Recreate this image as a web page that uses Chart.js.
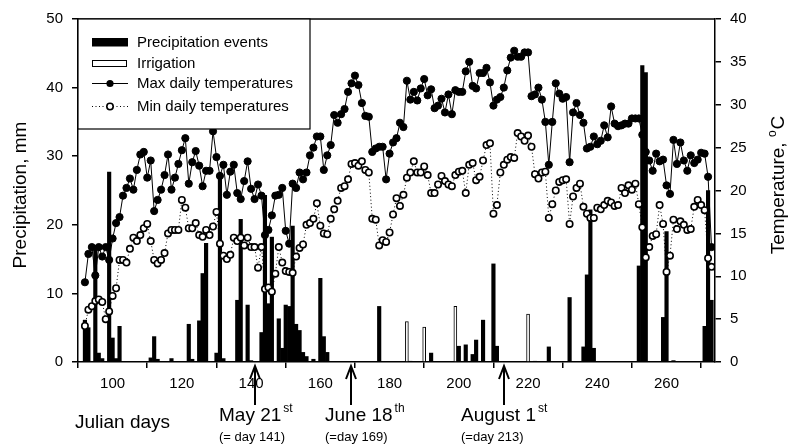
<!DOCTYPE html>
<html>
<head>
<meta charset="utf-8">
<script src="https://cdn.jsdelivr.net/npm/chart.js@4.4.1/dist/chart.umd.min.js"></script>
<style>
  html, body { margin: 0; padding: 0; background: #fff; }
  #wrap { width: 790px; height: 444px; }
</style>
</head>
<body>
<div id="wrap"><canvas id="chart" width="790" height="444"></canvas></div>
<script>
// Julian days with a temperature reading
const tempDays = [
  92, 93, 94, 95, 96, 97, 98, 99, 100, 101,
  102, 103, 104, 105, 106, 107, 108, 109, 110, 111,
  112, 113, 114, 115, 116, 117, 118, 119, 120, 121,
  122, 123, 124, 125, 126, 127, 128, 129, 130, 131,
  132, 133, 134, 135, 136, 137, 138, 139, 140, 141,
  142, 143, 144, 145, 146, 147, 148, 149, 150, 151,
  152, 153, 154, 155, 156, 157, 158, 159, 160, 161,
  162, 163, 164, 165, 166, 167, 168, 169, 170, 171,
  172, 173, 174, 175, 176, 177, 178, 179, 180, 181,
  182, 183, 184, 185, 186, 187, 188, 189, 190, 191,
  192, 193, 194, 195, 196, 197, 198, 199, 200, 201,
  202, 203, 204, 205, 206, 207, 208, 209, 210, 211,
  212, 213, 214, 215, 216, 217, 218, 219, 220, 221,
  222, 223, 224, 225, 226, 227, 228, 229, 230, 231,
  232, 233, 234, 235, 236, 237, 238, 239, 240, 241,
  242, 243, 244, 245, 246, 247, 248, 249, 250, 251,
  252, 253, 254, 255, 256, 257, 258, 259, 260, 261,
  262, 263, 264, 265, 266, 267, 268, 269, 270, 271,
  272, 273
];

const maxTemp = [
  9.3, 12.6, 13.4, 10.1, 13.4, 12.3, 13.4, 11.9, 14.4, 16.2,
  16.9, 19.4, 20.3, 21.4, 20.1, 22.4, 24.2, 24.5, 21.5, 23.5,
  17.6, 18.9, 20.1, 21.8, 24.2, 20.1, 21.5, 23.1, 24.7, 26.1,
  20.8, 23.3, 24.6, 22.9, 20.5, 22.3, 22.3, 26.9, 23.9, 21.7,
  23.0, 19.5, 22.2, 23.0, 19.7, 19.0, 21.1, 23.4, 20.2, 19.0,
  20.7, 19.4, 14.8, 15.4, 17.1, 19.4, 19.5, 20.3, 15.3, 13.8,
  20.8, 20.3, 22.1, 21.3, 22.1, 24.1, 25.0, 26.3, 26.3, 22.4,
  24.1, 25.3, 28.8, 27.9, 28.9, 29.5, 31.5, 32.5, 33.4, 32.3,
  30.2, 28.7, 28.6, 24.5, 24.9, 25.1, 25.1, 21.3, 24.3, 25.6,
  26.1, 27.9, 27.4, 32.8, 30.6, 31.5, 30.5, 31.9, 33.0, 31.1,
  31.8, 29.6, 29.9, 30.7, 29.1, 31.2, 28.9, 31.7, 31.5, 31.5,
  33.9, 35.0, 32.2, 31.9, 33.7, 33.7, 34.3, 32.6, 29.9, 30.6,
  30.9, 32.0, 34.0, 35.5, 36.3, 35.6, 35.6, 36.1, 36.1, 31.0,
  31.2, 32.0, 30.6, 28.0, 23.0, 28.0, 32.5, 31.3, 30.7, 30.9,
  23.3, 29.1, 30.2, 28.8, 27.9, 24.9, 25.1, 26.3, 25.4, 25.8,
  27.6, 26.2, 29.8, 27.8, 27.5, 27.6, 27.8, 27.8, 28.4, 28.4,
  28.4, 26.5, 24.5, 23.5, 22.3, 24.3, 23.4, 23.6, 20.6, 19.6,
  25.9, 23.1, 25.6, 23.5, 22.3, 24.1, 23.2, 23.6, 24.4, 24.3,
  21.6, 13.4
];

const minTemp = [
  4.2, 6.1, 6.5, 7.1, 7.3, 7.0, 5.0, 5.9, 7.7, 8.6,
  11.9, 11.9, 11.6, 13.2, 14.5, 14.1, 14.8, 15.6, 16.1, 14.1,
  11.9, 11.5, 11.9, 12.7, 15.0, 15.4, 15.4, 15.4, 18.9, 18.0,
  15.6, 15.6, 16.2, 14.8, 14.6, 15.4, 14.8, 15.8, 17.5, 13.8,
  12.4, 12.0, 12.5, 14.5, 14.1, 14.5, 13.6, 14.5, 13.4, 13.4,
  11.0, 13.4, 8.5, 8.7, 8.2, 10.3, 13.4, 11.6, 10.6, 10.5,
  10.4, 12.3, 13.3, 13.7, 16.0, 16.2, 16.7, 18.5, 15.9, 15.0,
  14.9, 16.7, 17.8, 18.8, 20.3, 20.5, 21.3, 23.1, 23.2, 22.9,
  23.4, 22.4, 22.1, 16.7, 16.6, 13.6, 14.2, 14.0, 15.1, 17.2,
  19.1, 18.2, 19.5, 21.5, 22.1, 23.4, 22.1, 22.1, 22.8, 21.8,
  19.7, 19.7, 20.7, 21.7, 21.1, 20.7, 20.5, 21.8, 22.2, 22.3,
  19.7, 23.0, 23.2, 21.2, 21.6, 23.5, 25.3, 25.5, 17.3, 18.3,
  22.1, 23.0, 23.6, 23.9, 23.8, 26.7, 26.3, 25.8, 26.4, 25.1,
  21.9, 21.4, 22.1, 22.2, 16.8, 18.4, 20.0, 21.0, 21.2, 21.3,
  16.1, 19.3, 20.3, 20.8, 18.1, 17.3, 16.8, 16.8, 18.0, 17.8,
  18.3, 18.8, 18.6, 18.2, 18.3, 20.3, 19.7, 20.6, 20.1, 20.8,
  18.4, 15.7, 12.2, 13.4, 14.7, 14.9, 18.3, 16.1, 10.5, 12.4,
  16.6, 15.5, 16.4, 16.0, 15.4, 15.5, 18.1, 18.9, 18.3, 17.7,
  12.1, 11.1
];

// precipitation events (mm)
const rainDays = [
  92, 93, 95, 96, 97, 99, 100, 101, 102, 111, 112, 113, 117, 122, 123, 125, 126, 127,
  130, 131, 132, 136, 137, 139, 140, 143, 144, 145, 146, 148, 149, 150, 151, 152,
  153, 154, 155, 156, 158, 160, 161, 162, 177, 186, 192, 200, 202, 204, 205, 207,
  210, 211, 222, 226, 232, 236, 237, 238, 239, 252, 253, 254, 259, 260, 262, 271,
  272, 273
];
const rainMm = [
  6.1, 5.0, 17.0, 1.3, 0.5, 27.7, 3.5, 0.5, 5.2, 0.6, 3.7, 0.4, 0.5, 5.5, 0.4, 6.0, 12.9, 17.3,
  1.3, 27.5, 0.5, 9.0, 20.8, 8.3, 0.2, 4.3, 24.3, 8.5, 18.2, 6.3, 2.0, 8.3, 8.1, 19.8,
  5.5, 4.6, 1.4, 0.8, 0.4, 12.2, 3.7, 1.4, 8.1, 0.1, 1.3, 2.3, 2.5, 1.1, 3.2, 6.1,
  14.3, 2.3, 0.1, 2.2, 9.4, 2.2, 12.7, 22.2, 2.0, 14.0, 43.2, 42.2, 6.5, 19.0, 0.2, 5.2,
  25.0, 9.0
];

// irrigation (mm)
const irrigDays = [185, 190, 199, 220];
const irrigMm = [5.9, 5.1, 8.1, 7.0];

const xTicks = [100, 120, 140, 160, 180, 200, 220, 240, 260];

const notes = [
  { day: 141, main: 'May 21', sup: 'st', sub: '(= day 141)', left: 219 },
  { day: 169, main: 'June 18', sup: 'th', sub: '(=day 169)', left: 325 },
  { day: 213, main: 'August 1', sup: 'st', sub: '(=day 213)', left: 461 }
];

const FONT = '"Liberation Sans", Arial, Helvetica, sans-serif';
Chart.defaults.font.family = FONT;
Chart.defaults.font.size = 15;
Chart.defaults.color = '#000';

const toXY = (xs, ys) => xs.map((x, i) => ({ x: x, y: ys[i] }));

function supText(ctx, x, y, main, sup, size, supSize, rise) {
  ctx.font = size + 'px ' + FONT;
  ctx.fillText(main, x, y);
  const w = ctx.measureText(main).width;
  ctx.font = supSize + 'px ' + FONT;
  ctx.fillText(sup, x + w + 2, y - rise);
}

const decor = {
  id: 'decor',
  afterDraw(chart) {
    const { ctx, chartArea: a } = chart;
    const xs = chart.scales.x;
    ctx.save();
    ctx.strokeStyle = '#000';
    ctx.fillStyle = '#000';

    // top frame
    ctx.lineWidth = 1.5;
    ctx.beginPath();
    ctx.moveTo(a.left, a.top);
    ctx.lineTo(a.right, a.top);
    ctx.stroke();

    // legend box
    ctx.fillStyle = '#fff';
    ctx.fillRect(a.left, a.top, 232, 110);
    ctx.lineWidth = 1.2;
    ctx.strokeRect(a.left, a.top, 232, 110);

    ctx.fillStyle = '#000';
    ctx.fillRect(92, 38, 36, 8.5);
    ctx.fillStyle = '#fff';
    ctx.lineWidth = 1;
    ctx.strokeRect(92.5, 60.5, 34, 6);

    ctx.beginPath();
    ctx.moveTo(92, 83.5); ctx.lineTo(128, 83.5);
    ctx.stroke();
    ctx.fillStyle = '#000';
    ctx.beginPath(); ctx.arc(110, 83.5, 3.6, 0, Math.PI * 2); ctx.fill();

    ctx.setLineDash([1, 2.5]);
    ctx.beginPath();
    ctx.moveTo(92, 106.5); ctx.lineTo(128, 106.5);
    ctx.stroke();
    ctx.setLineDash([]);
    ctx.fillStyle = '#fff';
    ctx.lineWidth = 1.6;
    ctx.beginPath(); ctx.arc(110, 106.5, 3.2, 0, Math.PI * 2); ctx.fill(); ctx.stroke();

    ctx.fillStyle = '#000';
    ctx.font = '15px ' + FONT;
    ctx.textBaseline = 'middle';
    ctx.textAlign = 'left';
    ctx.fillText('Precipitation events', 137, 42.5);
    ctx.fillText('Irrigation', 137, 64);
    ctx.fillText('Max daily temperatures', 137, 84);
    ctx.fillText('Min daily temperatures', 137, 107);

    // axis titles
    ctx.textBaseline = 'alphabetic';
    ctx.save();
    ctx.translate(26, 195);
    ctx.rotate(-Math.PI / 2);
    ctx.textAlign = 'center';
    ctx.font = '19px ' + FONT;
    ctx.fillText('Precipitation, mm', 0, 0);
    ctx.restore();

    ctx.save();
    ctx.translate(784, 185);
    ctx.rotate(-Math.PI / 2);
    ctx.textAlign = 'left';
    ctx.font = '19px ' + FONT;
    const t1 = 'Temperature, ';
    const w1 = ctx.measureText(t1).width;
    const wc = ctx.measureText('C').width;
    ctx.font = '12px ' + FONT;
    const wo = ctx.measureText('o').width + 1;
    const x0 = -(w1 + wo + wc) / 2;
    ctx.font = '19px ' + FONT;
    ctx.fillText(t1, x0, 0);
    ctx.fillText('C', x0 + w1 + wo, 0);
    ctx.font = '12px ' + FONT;
    ctx.fillText('o', x0 + w1, -8);
    ctx.restore();

    // bottom annotations
    ctx.textAlign = 'left';
    ctx.font = '19px ' + FONT;
    ctx.fillText('Julian days', 75, 428);

    ctx.lineWidth = 2;
    notes.forEach(n => {
      const x = Math.round(xs.getPixelForValue(n.day));
      ctx.beginPath();
      ctx.moveTo(x, 405); ctx.lineTo(x, 367);
      ctx.moveTo(x - 5, 379); ctx.lineTo(x, 366); ctx.lineTo(x + 5, 379);
      ctx.stroke();
      supText(ctx, n.left, 421, n.main, n.sup, 19, 12, 9);
      ctx.font = '13px ' + FONT;
      ctx.fillText(n.sub, n.left, 441);
    });
    ctx.restore();
  }
};

const axisGrid = { drawOnChartArea: false, drawTicks: true, tickLength: 6, color: '#000', lineWidth: 1.5 };
const axisBorder = { display: true, color: '#000', width: 1.5 };

new Chart(document.getElementById('chart'), {
  type: 'bar',
  data: {
    datasets: [
      {
        type: 'line', label: 'Min daily temperatures', data: toXY(tempDays, minTemp), yAxisID: 'y1',
        borderColor: '#000', borderWidth: 1, borderDash: [1, 2.5], tension: 0,
        pointRadius: 3.2, pointBackgroundColor: '#fff', pointBorderColor: '#000', pointBorderWidth: 1.6,
        order: 0
      },
      {
        type: 'line', label: 'Max daily temperatures', data: toXY(tempDays, maxTemp), yAxisID: 'y1',
        borderColor: '#000', borderWidth: 1, tension: 0,
        pointRadius: 3.6, pointBackgroundColor: '#000', pointBorderColor: '#000', pointBorderWidth: 1,
        order: 1
      },
      {
        type: 'bar', label: 'Precipitation events', data: toXY(rainDays, rainMm), yAxisID: 'y',
        backgroundColor: '#000', borderWidth: 0, barThickness: 3.5, grouped: false, order: 2
      },
      {
        type: 'bar', label: 'Irrigation', data: toXY(irrigDays, irrigMm), yAxisID: 'y',
        backgroundColor: '#fff', borderColor: '#000', borderWidth: 1, barThickness: 3, grouped: false, order: 2
      }
    ]
  },
  options: {
    responsive: false,
    devicePixelRatio: 1,
    animation: false,
    layout: { padding: { top: 19, left: 0, right: 0, bottom: 0 } },
    plugins: { legend: { display: false }, tooltip: { enabled: false } },
    scales: {
      x: {
        type: 'linear', min: 90, max: 274, offset: false,
        afterBuildTicks: s => { s.ticks = xTicks.map(v => ({ value: v })); },
        afterFit: s => { s.height = 82; },
        ticks: { padding: 7, maxRotation: 0, autoSkip: false, color: '#000', font: { size: 15 } },
        grid: axisGrid, border: axisBorder
      },
      y: {
        position: 'left', min: 0, max: 50,
        afterFit: s => { s.width = 78; },
        ticks: { stepSize: 10, padding: 9, color: '#000', font: { size: 15 } },
        grid: axisGrid, border: axisBorder
      },
      y1: {
        position: 'right', min: 0, max: 40,
        afterFit: s => { s.width = 75; },
        ticks: { stepSize: 5, padding: 9, color: '#000', font: { size: 15 } },
        grid: axisGrid, border: axisBorder
      }
    }
  },
  plugins: [decor]
});
</script>
</body>
</html>
